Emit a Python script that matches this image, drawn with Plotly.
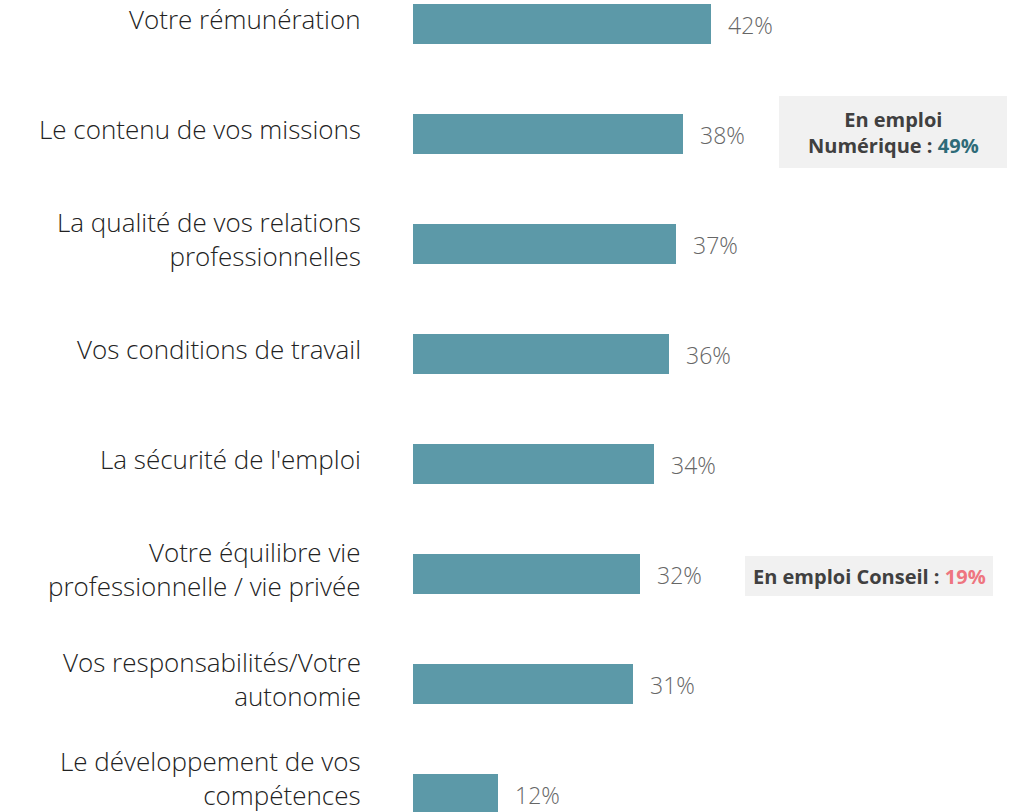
import plotly.graph_objects as go

categories = [
    "Votre rémunération",
    "Le contenu de vos missions",
    "La qualité de vos relations<br>professionnelles",
    "Vos conditions de travail",
    "La sécurité de l'emploi",
    "Votre équilibre vie<br>professionnelle / vie privée",
    "Vos responsabilités/Votre<br>autonomie",
    "Le développement de vos<br>compétences",
]
values = [42, 38, 37, 36, 34, 32, 31, 12]

W, H = 1020, 812
BAR_COLOR = "#5c99a8"
FONT = "'Open Sans', Lato, sans-serif"

# pixel geometry of the reference
x0_px, px_per_unit = 413, 7.1
row0_px, row_step = 24, 110

ypos = list(range(len(categories)))

fig = go.Figure()
fig.add_trace(go.Bar(
    x=values, y=ypos, orientation="h",
    marker=dict(color=BAR_COLOR, line=dict(width=0)),
    width=40 / row_step, hoverinfo="skip",
))

fig.update_xaxes(
    range=[-x0_px / px_per_unit, (W - x0_px) / px_per_unit],
    visible=False, fixedrange=True,
)
fig.update_yaxes(
    range=[(H - row0_px) / row_step, -row0_px / row_step],
    visible=False, fixedrange=True,
)

# category labels on the left (last one pushed up so it stays on the page)
for i, cat in enumerate(categories):
    fig.add_annotation(
        x=(363 - x0_px) / px_per_unit, y=i, text=cat, showarrow=False,
        xanchor="right", yanchor="middle", align="right",
        yshift=16 if i == len(categories) - 1 else 5,
        font=dict(family=FONT, size=26, color="#222222", weight=300),
    )

# value labels
for i, v in enumerate(values):
    fig.add_annotation(
        x=v, y=i, text=f"{v}%", showarrow=False,
        xanchor="left", yanchor="middle", xshift=15, yshift=-1,
        font=dict(family=FONT, size=23, color="#666666", weight=300),
    )

# callout boxes
def px_box(x1, y1, x2, y2):
    return dict(type="rect", xref="paper", yref="paper",
                x0=x1 / W, x1=x2 / W, y0=1 - y2 / H, y1=1 - y1 / H,
                fillcolor="#f1f1f1", line=dict(width=0), layer="below")

fig.add_shape(**px_box(779, 96, 1007, 168))
fig.add_shape(**px_box(745, 556, 993, 596))

fig.add_annotation(
    xref="paper", yref="paper", x=893 / W, y=1 - 132 / H,
    text="<b>En emploi<br>Numérique : <span style='color:#2e6b78'>49%</span></b>",
    showarrow=False, xanchor="center", yanchor="middle", align="center",
    font=dict(family=FONT, size=20, color="#404040"),
)
fig.add_annotation(
    xref="paper", yref="paper", x=869 / W, y=1 - 576 / H,
    text="<b>En emploi Conseil : <span style='color:#ee7580'>19%</span></b>",
    showarrow=False, xanchor="center", yanchor="middle", align="center",
    font=dict(family=FONT, size=20, color="#404040"),
)

fig.update_layout(
    width=W, height=H,
    margin=dict(l=0, r=0, t=0, b=0),
    plot_bgcolor="white", paper_bgcolor="white",
    showlegend=False, bargap=0,
)

fig.write_html("out.html", config={"displayModeBar": False},
               post_script="document.body.style.margin='0';")
